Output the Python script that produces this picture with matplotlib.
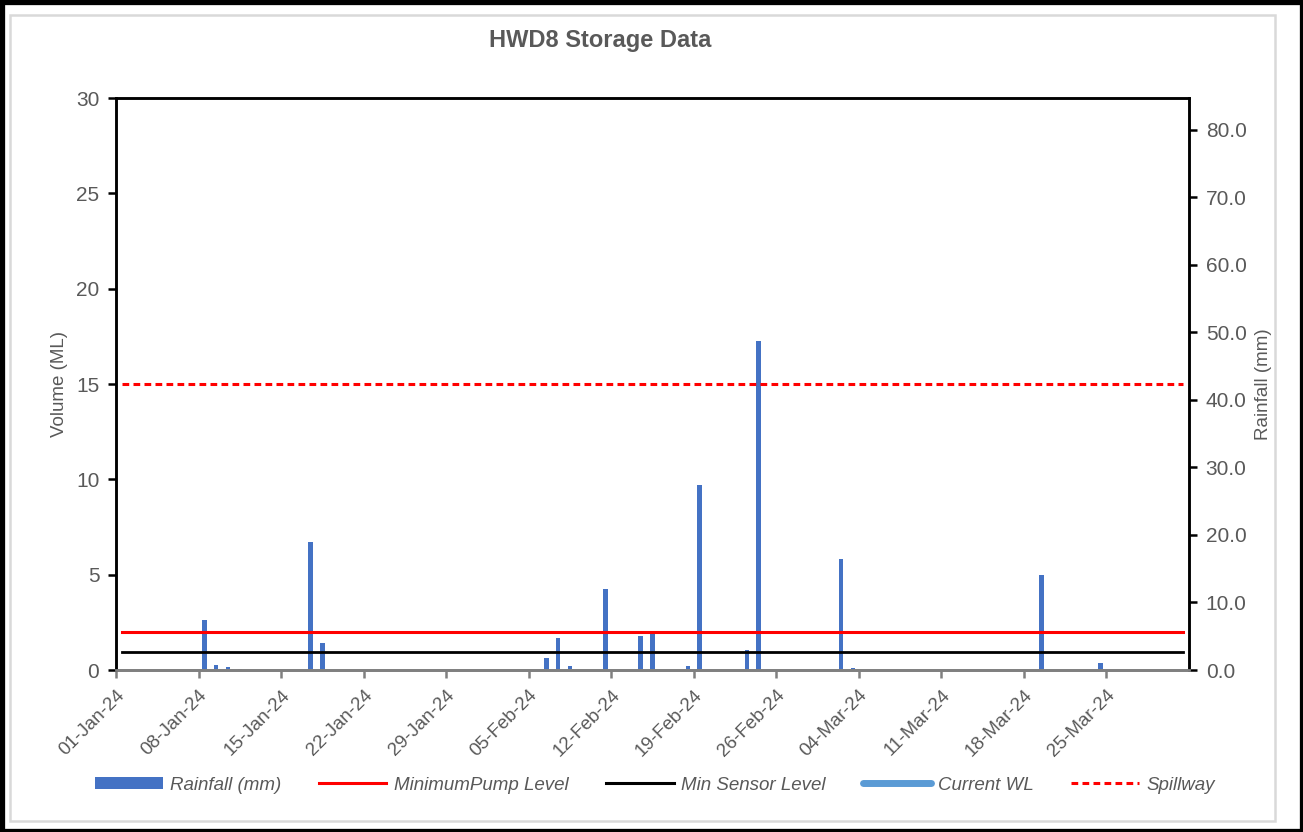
import matplotlib
matplotlib.use("Agg")
import matplotlib.pyplot as plt
import matplotlib.transforms as mtransforms
from matplotlib.lines import Line2D
from matplotlib.patches import Patch, Rectangle
import numpy as np
import datetime as dt

# ---------------- data ----------------
title = "HWD8 Storage Data"
rain_dates = ["2024-01-08", "2024-01-09", "2024-01-10", "2024-01-11",
              "2024-01-17", "2024-01-18",
              "2024-02-06", "2024-02-07", "2024-02-08", "2024-02-11",
              "2024-02-14", "2024-02-15", "2024-02-18", "2024-02-19",
              "2024-02-23", "2024-02-24",
              "2024-03-02", "2024-03-03", "2024-03-19", "2024-03-24"]
rain_mm = [7.4, 0.8, 0.4, 0.2,
           19.0, 4.0,
           1.8, 4.8, 0.6, 12.0,
           5.0, 5.6, 0.6, 27.4,
           2.9, 48.7,
           16.4, 0.3, 14.1, 1.1]
level_start = "2024-01-01"
level_end = "2024-03-31"
min_pump_level = 2.0
min_sensor_level = 0.95
spillway_level = 15.0
current_wl = []  # no data shown
tick_start = "2024-01-01"
tick_end = "2024-03-25"
x_start = "2024-01-01"
x_end = "2024-04-01"
legend_labels = ["Rainfall (mm)", "MinimumPump Level", "Min Sensor Level", "Current WL", "Spillway"]

# ---------------- style ----------------
plt.rcParams['font.family'] = ['Liberation Sans', 'DejaVu Sans']
txt = "#595959"
bar_col = "#4472C4"
wl_col = "#5B9BD5"

W, H = 1303, 832
fig = plt.figure(figsize=(W / 100, H / 100), dpi=100)

# frames
fig.patches.append(Rectangle((10 / W, 1 - 821 / H), (1275 - 10) / W, (821 - 15) / H,
                             transform=fig.transFigure, fill=False,
                             edgecolor="#D9D9D9", linewidth=1.8, zorder=0))
fig.patches.append(Rectangle((1.5 / W, 1.5 / H), (W - 3) / W, (H - 3) / H,
                             transform=fig.transFigure, fill=False,
                             edgecolor="black", linewidth=3.8, zorder=0))

ax = fig.add_axes([116 / W, 1 - 670 / H, (1189 - 116) / W, (670 - 98) / H])
ax2 = ax.twinx()

half = dt.timedelta(hours=12)
rd = [dt.datetime.fromisoformat(d) + half for d in rain_dates]
ax2.bar(rd, rain_mm, width=0.38, color=bar_col, zorder=2)

days = np.arange(np.datetime64(level_start), np.datetime64(level_end) + 1)
ld = [dt.datetime.fromisoformat(str(d)) + half for d in days]
n = len(ld)
ax.plot(ld, [min_pump_level] * n, color="#FF0000", lw=2.2, zorder=3)
ax.plot(ld, [min_sensor_level] * n, color="black", lw=2.0, zorder=3)
ax.plot(ld, [spillway_level] * n, color="#FF0000", lw=2.2, ls=(0, (2.2, 1.4)), zorder=3)
ax.set_zorder(ax2.get_zorder() + 1)
ax.patch.set_visible(False)

ax.set_xlim(dt.datetime.fromisoformat(x_start), dt.datetime.fromisoformat(x_end))
ax.set_ylim(0, 30)
ax.set_yticks([0, 5, 10, 15, 20, 25, 30])
ax2.set_ylim(0, 84.7)
ax2.set_yticks(np.arange(0, 81, 10))
ax2.set_yticklabels([f"{v:.1f}" for v in np.arange(0, 81, 10)])

ticks = np.arange(np.datetime64(tick_start), np.datetime64(tick_end) + 1, 7)
tk = [dt.datetime.fromisoformat(str(t)) for t in ticks]
ax.set_xticks(tk)
ax.set_xticklabels([t.strftime("%d-%b-%y") for t in tk], rotation=45,
                   ha="right", va="top", rotation_mode="anchor")
offset = mtransforms.ScaledTranslation(7 / 100, -3 / 100, fig.dpi_scale_trans)
for lab in ax.get_xticklabels():
    lab.set_transform(lab.get_transform() + offset)

for a in (ax, ax2):
    for s in ("left", "right", "top"):
        a.spines[s].set_color("black")
        a.spines[s].set_linewidth(1.8)
    a.spines["bottom"].set_color("#808080")
    a.spines["bottom"].set_linewidth(2.0)

ax.tick_params(axis="y", colors="black", labelcolor=txt, labelsize=15, length=6, width=1.8, pad=6)
ax2.tick_params(axis="y", colors="black", labelcolor=txt, labelsize=15, length=6, width=1.8, pad=6)
ax.tick_params(axis="x", colors="#808080", labelcolor=txt, labelsize=13.5, length=6, width=1.8, pad=6)

ax.set_ylabel("Volume (ML)", fontsize=13.5, color=txt)
ax2.set_ylabel("Rainfall (mm)", fontsize=13.5, color=txt, rotation=90)
ax.yaxis.set_label_coords(-48 / (1189 - 116), 0.5)
ax2.yaxis.set_label_coords(1 + (1255 - 1189) / (1189 - 116), 0.5)

fig.text(600 / W, 1 - 40 / H, title, ha="center", va="center", fontsize=17,
         fontweight="bold", color=txt)

handles = [
    Patch(facecolor=bar_col, edgecolor="none"),
    Line2D([], [], color="#FF0000", lw=2.2),
    Line2D([], [], color="black", lw=2.2),
    Line2D([], [], color=wl_col, lw=5, solid_capstyle="round"),
    Line2D([], [], color="#FF0000", lw=2.2, ls=(0, (2.2, 1.4))),
]
leg = fig.legend(handles, legend_labels, loc="center", bbox_to_anchor=(655 / W, 1 - 785 / H),
                 ncol=5, frameon=False, handlelength=3.6, handleheight=0.6,
                 handletextpad=0.4, columnspacing=2.0,
                 prop={"size": 13.5, "style": "italic"})
for t in leg.get_texts():
    t.set_color(txt)

fig.savefig("out.png", dpi=100)
